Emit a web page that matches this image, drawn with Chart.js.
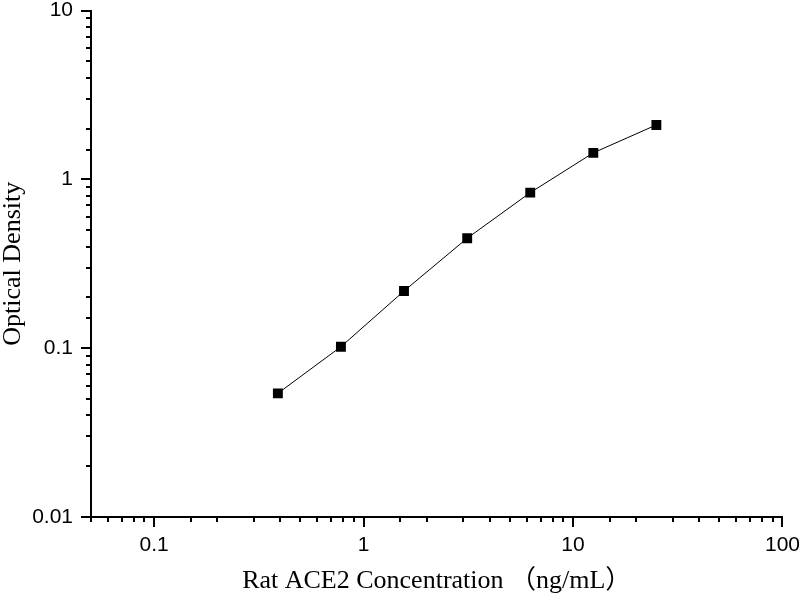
<!DOCTYPE html>
<html>
<head>
<meta charset="utf-8">
<script src="https://cdn.jsdelivr.net/npm/chart.js@4.4.1/dist/chart.umd.min.js"></script>
<style>
  html, body { margin: 0; padding: 0; background: #fff; }
  #wrap { width: 800px; height: 600px; }
</style>
</head>
<body>
<div id="wrap"><canvas id="grafica"></canvas></div>
<script>
// datos de la curva estandar
const concentraciones = [0.39, 0.78, 1.56, 3.125, 6.25, 12.5, 25];
const densidades = [0.054, 0.102, 0.218, 0.448, 0.834, 1.435, 2.1];
const ticksX = [0.1, 1, 10, 100];
const ticksY = [0.01, 0.1, 1, 10];

const puntos = concentraciones.map((c, i) => ({ x: c, y: densidades[i] }));

const esPotencia = v => Math.abs(Math.log10(v) - Math.round(Math.log10(v))) < 1e-6;

// dibuja las marcas hacia afuera: largas en potencias de 10, cortas en el resto
const marcasEje = {
  id: 'marcasEje',
  afterDraw(chart) {
    const ctx = chart.ctx;
    const sx = chart.scales.x;
    const sy = chart.scales.y;
    ctx.save();
    ctx.strokeStyle = '#000';
    ctx.lineWidth = 2;
    ctx.beginPath();
    sx.ticks.forEach(t => {
      const px = Math.round(sx.getPixelForValue(t.value));
      const largo = esPotencia(t.value) ? 10 : 5;
      ctx.moveTo(px, sy.bottom);
      ctx.lineTo(px, sy.bottom + largo);
    });
    sy.ticks.forEach(t => {
      const py = Math.round(sy.getPixelForValue(t.value));
      const largo = esPotencia(t.value) ? 10 : 5;
      ctx.moveTo(sx.left, py);
      ctx.lineTo(sx.left - largo, py);
    });
    ctx.stroke();
    ctx.restore();
  }
};

const etiqueta = (lista) => (value) => {
  const v = lista.find(t => Math.abs(t - value) / t < 1e-6);
  return v !== undefined ? String(v) : '';
};

const fuenteTicks = { family: '"Liberation Sans", Arial, sans-serif', size: 21, lineHeight: 1 };

new Chart(document.getElementById('grafica'), {
  type: 'line',
  data: {
    datasets: [{
      data: puntos,
      borderColor: '#000',
      borderWidth: 1,
      backgroundColor: '#000',
      pointStyle: 'rect',
      pointRadius: 7,
      pointHoverRadius: 7,
      pointBackgroundColor: '#000',
      pointBorderColor: '#000',
      pointBorderWidth: 0,
      tension: 0
    }]
  },
  options: {
    responsive: true,
    maintainAspectRatio: false,
    animation: false,
    layout: { padding: { top: 9, right: 17, left: 0, bottom: 0 } },
    plugins: { legend: { display: false }, tooltip: { enabled: false } },
    scales: {
      x: {
        type: 'logarithmic',
        min: 0.05,
        max: 100,
        afterFit: s => { s.height = 83; },
        border: { display: true, color: '#000', width: 2 },
        // las marcas las pinta el plugin, aqui solo reservan espacio
        grid: { display: false, drawTicks: true, tickLength: 18 },
        ticks: {
          autoSkip: false,
          maxRotation: 0,
          padding: 0,
          color: '#000',
          font: fuenteTicks,
          callback: etiqueta(ticksX)
        },
        title: {
          display: true,
          text: 'Rat ACE2 Concentration （ng/mL）',
          color: '#000',
          font: { family: '"Liberation Serif", "Times New Roman", "Noto Sans CJK SC", serif', size: 26, lineHeight: 1 },
          padding: { top: 0, bottom: 6 }
        }
      },
      y: {
        type: 'logarithmic',
        min: 0.01,
        max: 10,
        afterFit: s => { s.width = 91; },
        border: { display: true, color: '#000', width: 2 },
        grid: { display: false, drawTicks: true, tickLength: 18 },
        ticks: {
          autoSkip: false,
          padding: 0,
          color: '#000',
          font: fuenteTicks,
          callback: etiqueta(ticksY)
        },
        title: {
          display: true,
          text: 'Optical Density',
          color: '#000',
          font: { family: '"Liberation Serif", "Times New Roman", serif', size: 26, lineHeight: 1 },
          padding: { top: 0, bottom: 0 }
        }
      }
    }
  },
  plugins: [marcasEje]
});
</script>
</body>
</html>
